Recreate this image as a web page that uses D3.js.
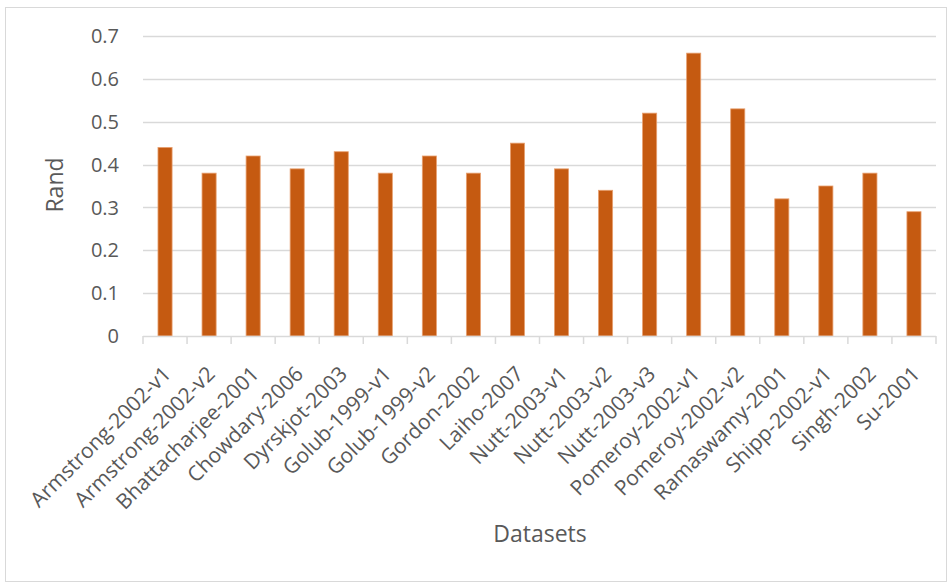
<!DOCTYPE html>
<html><head><meta charset="utf-8">
<script src="https://cdn.jsdelivr.net/npm/d3@7"></script>
<style>body{margin:0;background:#fff;} text{font-family:"Open Sans",sans-serif;fill:#595959;}</style>
</head><body>
<svg id="c" width="952" height="583"></svg>
<script>
const categories = ["Armstrong-2002-v1","Armstrong-2002-v2","Bhattacharjee-2001","Chowdary-2006","Dyrskjot-2003","Golub-1999-v1","Golub-1999-v2","Gordon-2002","Laiho-2007","Nutt-2003-v1","Nutt-2003-v2","Nutt-2003-v3","Pomeroy-2002-v1","Pomeroy-2002-v2","Ramaswamy-2001","Shipp-2002-v1","Singh-2002","Su-2001"];
const randValues = [0.44,0.38,0.42,0.39,0.43,0.38,0.42,0.38,0.45,0.39,0.34,0.52,0.66,0.53,0.32,0.35,0.38,0.29];
const yTicks = [0,0.1,0.2,0.3,0.4,0.5,0.6,0.7];
const yTitle = "Rand";
const xTitle = "Datasets";

(function(){
const svg = d3.select("#c");
svg.append("rect").attr("x",5.5).attr("y",7.5).attr("width",941).attr("height",574)
  .attr("fill","#fff").attr("stroke","#d9d9d9").attr("stroke-width",1);

const pLeft = 143, pRight = 936, pTop = 36, pBottom = 336;
const x = d3.scaleBand().domain(categories).range([pLeft,pRight]).paddingInner(0.68).paddingOuter(0.34);
const y = d3.scaleLinear().domain([0,0.7]).range([pBottom,pTop]);

svg.append("g").selectAll("line").data(yTicks.filter(d=>d>0)).join("line")
  .attr("x1",pLeft).attr("x2",pRight).attr("y1",d=>Math.round(y(d))+0.5).attr("y2",d=>Math.round(y(d))+0.5)
  .attr("stroke","#d9d9d9").attr("stroke-width",1.5);

svg.append("g").selectAll("text").data(yTicks).join("text")
  .attr("x",119).attr("y",d=>y(d)).attr("dy","0.36em").attr("text-anchor","end")
  .attr("font-size",20).text(d=>d===0?"0":d.toFixed(1));

svg.append("g").selectAll("rect").data(randValues).join("rect")
  .attr("x",(d,i)=>x(categories[i])).attr("width",x.bandwidth())
  .attr("y",d=>y(d)).attr("height",d=>y(0)-y(d))
  .attr("fill","#c55a11").attr("stroke","#e8a070").attr("stroke-width",0.8);

const bounds = d3.range(categories.length+1).map(i=>pLeft + i*(pRight-pLeft)/categories.length);
svg.append("line").attr("x1",pLeft).attr("x2",pRight).attr("y1",pBottom+0.5).attr("y2",pBottom+0.5)
  .attr("stroke","#d9d9d9").attr("stroke-width",1.5);
svg.append("g").selectAll("line").data(bounds).join("line")
  .attr("x1",d=>d).attr("x2",d=>d).attr("y1",pBottom).attr("y2",pBottom+8)
  .attr("stroke","#d9d9d9").attr("stroke-width",1.5);

svg.append("g").selectAll("text").data(categories).join("text")
  .attr("transform",d=>`translate(${x(d)+x.bandwidth()/2+2},${pBottom+34}) rotate(-45)`)
  .attr("text-anchor","end").attr("dy","0.35em").attr("font-size",21).text(d=>d);

svg.append("text").attr("transform","translate(63,185) rotate(-90)").attr("text-anchor","middle")
  .attr("font-size",23).text(yTitle);
svg.append("text").attr("x",540).attr("y",542).attr("text-anchor","middle")
  .attr("font-size",23).text(xTitle);
})();
</script>
</body></html>
